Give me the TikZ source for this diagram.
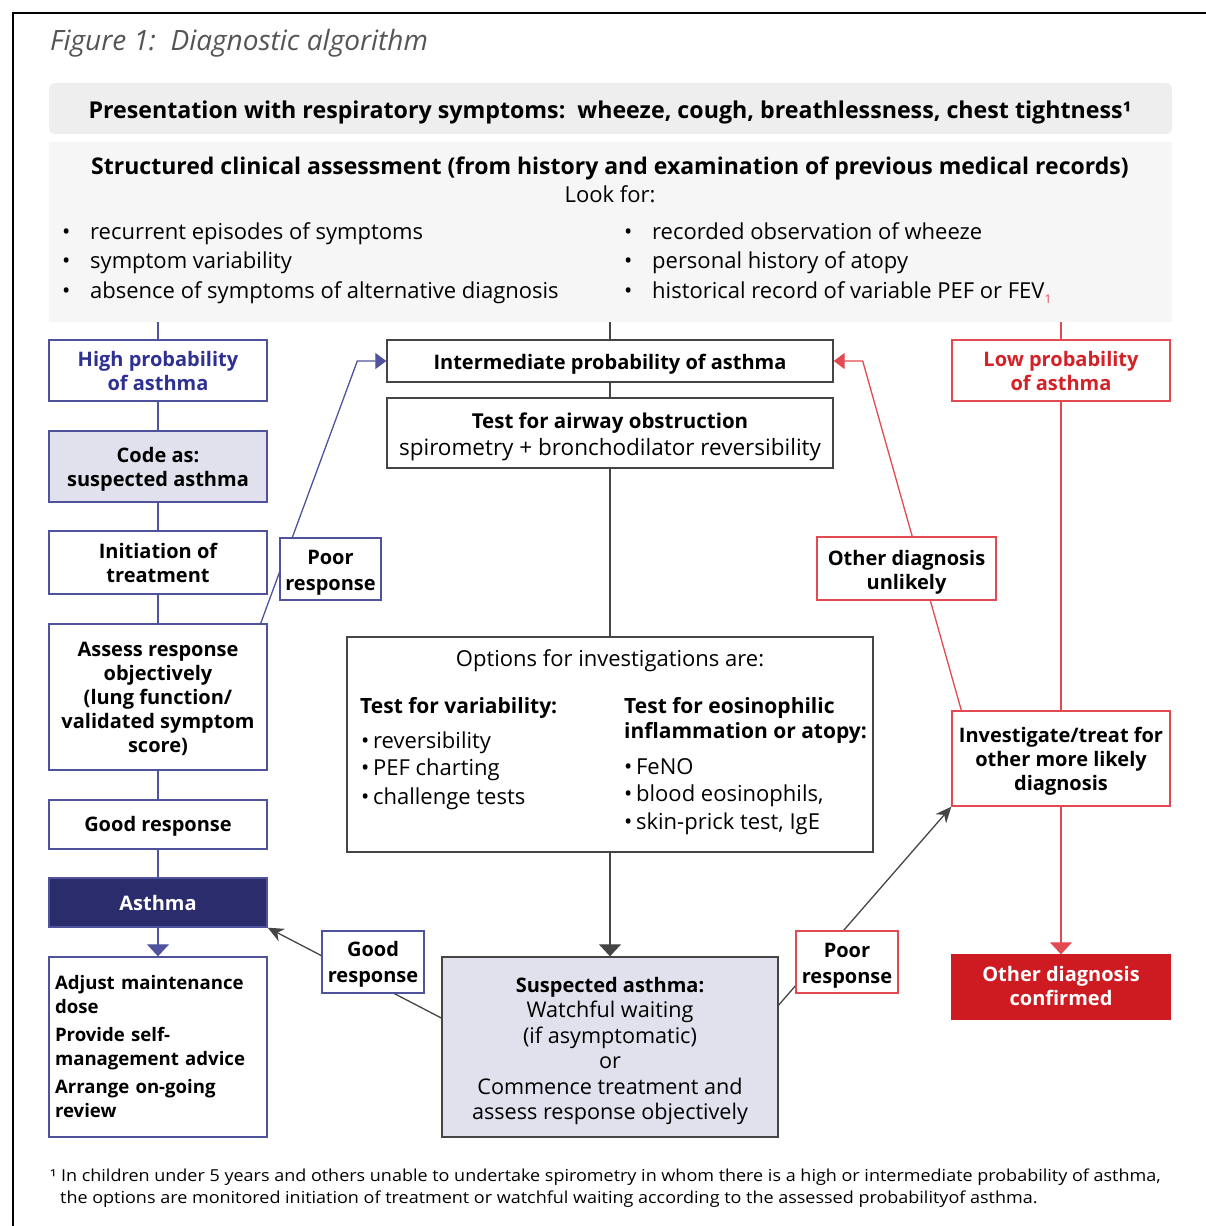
\documentclass[tikz,border=0pt]{standalone}
\usepackage{fontspec}
\setmainfont{Open Sans}
\newfontfamily\fnfont[FakeStretch=1.09]{Open Sans}
\usetikzlibrary{arrows.meta,calc,backgrounds}
\definecolor{navy}{HTML}{2E3192}
\definecolor{navyb}{HTML}{4F529C}
\definecolor{navyfill}{HTML}{2A2C6C}
\definecolor{lav}{HTML}{E1E1EE}
\definecolor{rd}{HTML}{D42128}
\definecolor{rdl}{HTML}{E34950}
\definecolor{rdfill}{HTML}{CE1A21}
\definecolor{dg}{HTML}{454545}
\definecolor{hdrgray}{HTML}{EEEEEE}
\definecolor{scagray}{HTML}{F6F6F6}
\definecolor{titlegray}{HTML}{555555}
\newcommand\fsz[2]{\fontsize{#1}{#2}\selectfont}
\newcommand\sdown[2]{\raisebox{-#1}[\height][\depth]{\begin{tabular}{@{}c@{}}#2\end{tabular}}}
\tikzset{
 bx/.style 2 args={minimum width=#1, minimum height=#2, inner sep=0pt, align=center},
 dn/.style={execute at begin node={\rule{0pt}{#1}}},
 nbox/.style={draw=navyb, line width=1.4pt, fill=white, font=\fsz{20}{24}\bfseries},
 gbox/.style={draw=dg, line width=1.4pt, fill=white},
 rbox/.style={draw=rdl, line width=1.4pt, fill=white, font=\fsz{20}{24}\bfseries},
 nline/.style={draw=navyb, line width=1.3pt},
 gline/.style={draw=dg, line width=1.3pt},
 rline/.style={draw=rdl, line width=1.3pt},
 ltxt/.style={anchor=base west, inner sep=0pt},
 sidetip/.style={-{Triangle[length=11pt,width=16pt]}},
 downtip/.style={-{Triangle[length=12pt,width=22pt]}},
 blk/.style={-{Stealth[length=16pt,width=14pt]}},
 reg/.style={font=\fsz{22}{25}},
 bld/.style={font=\fsz{21}{25}\bfseries},
}
\begin{document}
\begin{tikzpicture}[x=1pt,y=-1pt]
\useasboundingbox (0,0) rectangle (1206,1226);
% frame
\draw[line width=2pt] (13,1226) -- (13,13) -- (1206,13);
\node[ltxt, font=\fsz{28}{32}\itshape, text=titlegray] (title) at (50,50) {Figure 1:\ \ Diagnostic algorithm};

% header boxes
\node[fill=hdrgray, rounded corners=6pt, bx={1123pt}{51pt}] (hdr) at (610.5,108.5) {};
\node[anchor=base, inner sep=0pt, font=\fsz{23.2}{26}\bfseries] (hdrt) at (610,118)
  {Presentation with respiratory symptoms:\ \ wheeze, cough, breathlessness, chest tightness¹};
\node[fill=scagray, bx={1123pt}{180pt}] (sca) at (610.5,232) {};
\node[anchor=base, inner sep=0pt, font=\fsz{23}{26}\bfseries] (scat) at (610,174)
  {Structured clinical assessment (from history and examination of previous medical records)};
\node[anchor=base, inner sep=0pt, reg] (look) at (610,202) {Look for:};
\node[ltxt, reg] (b1) at (62,239) {\makebox[28pt][l]{•}recurrent episodes of symptoms};
\node[ltxt, reg] (b2) at (62,268) {\makebox[28pt][l]{•}symptom variability};
\node[ltxt, reg] (b3) at (62,298) {\makebox[28pt][l]{•}absence of symptoms of alternative diagnosis};
\node[ltxt, reg] (b4) at (624,239) {\makebox[28pt][l]{•}recorded observation of wheeze};
\node[ltxt, reg] (b5) at (624,268) {\makebox[28pt][l]{•}personal history of atopy};
\node[ltxt, reg] (b6) at (624,298) {\makebox[28pt][l]{•}historical record of variable PEF or FEV\raisebox{-5pt}{\fsz{12}{12}\textcolor{rdl}{1}}};

% left column
\node[nbox, bx={218pt}{61pt}, text=navy] (high) at (158,370.5) {High probability\\of asthma};
\node[nbox, bx={218pt}{71pt}, fill=lav] (code) at (158,466.5) {\sdown{3.5pt}{Code as:\\suspected asthma}};
\node[nbox, bx={218pt}{63pt}] (init) at (158,562.5) {Initiation of\\treatment};
\node[nbox, bx={218pt}{146pt}] (assess) at (158,697) {\sdown{2.5pt}{Assess response\\objectively\\(lung function/\\validated symptom\\score)}};
\node[nbox, bx={218pt}{49pt}, dn=19pt] (good) at (158,824.5) {Good response};
\node[nbox, bx={218pt}{49pt}, fill=navyfill, text=white] (asthma) at (158,902.5) {Asthma};
\node[nbox, bx={218pt}{180pt}, align=left, text width=206pt, font=\fsz{18.6}{24}\bfseries] (adjust) at (158,1047)
  {Adjust maintenance\\dose\\[4pt]Provide self-\\management advice\\[4pt]Arrange on-going\\review};
\node[nbox, bx={101pt}{62pt}, font=\fsz{20}{26}\bfseries] (poor1) at (330.5,569) {\sdown{3pt}{Poor\\response}};
\node[nbox, bx={102pt}{62pt}, font=\fsz{20}{26}\bfseries] (good2) at (373,962) {\sdown{2.5pt}{Good\\response}};

% centre column
\node[gbox, bx={446pt}{42pt}, font=\fsz{20}{24}\bfseries, dn=21pt] (inter) at (610,361) {Intermediate probability of asthma};
\node[gbox, bx={446pt}{70pt}, font=\fsz{22.5}{27}] (test) at (610,433)
  {\sdown{4pt}{\fontsize{20.5}{27}\selectfont\textbf{Test for airway obstruction}\\spirometry + bronchodilator reversibility}};
\node[gbox, bx={526pt}{215pt}] (opt) at (610,744.5) {};
\node[inner sep=0pt, reg] (opth) at (610,661) {Options for investigations are:};
\node[ltxt, bld] (v0) at (360,713) {Test for variability:};
\node[ltxt, reg] (v1) at (361,748) {•\,reversibility};
\node[ltxt, reg] (v2) at (361,775) {•\,PEF charting};
\node[ltxt, reg] (v3) at (361,804) {•\,challenge tests};
\node[ltxt, bld] (e0) at (624,713) {Test for eosinophilic};
\node[ltxt, bld] (e1) at (624,738) {inflammation or atopy:};
\node[ltxt, reg] (e2) at (624,774) {•\,FeNO};
\node[ltxt, reg] (e3) at (624,801) {•\,blood eosinophils,};
\node[ltxt, reg] (e4) at (624,829) {•\,skin-prick test, IgE};
\node[gbox, bx={336pt}{180pt}, fill=lav, font=\fsz{21.6}{25.4}] (susp) at (610,1047)
  {\sdown{4pt}{\fontsize{20}{25.4}\selectfont\textbf{Suspected asthma:}\\Watchful waiting\\(if asymptomatic)\\or\\Commence treatment and\\assess response objectively}};

% right column
\node[rbox, bx={218pt}{61pt}, text=rd] (low) at (1061,370.5) {Low probability\\of asthma};
\node[rbox, bx={179pt}{63pt}] (other) at (906.5,568.5) {\sdown{4pt}{Other diagnosis\\unlikely}};
\node[rbox, bx={218pt}{95pt}] (invest) at (1061,758.5) {\sdown{3.5pt}{Investigate/treat for\\other more likely\\diagnosis}};
\node[rbox, bx={218pt}{64pt}, fill=rdfill, draw=rdfill, text=white] (conf) at (1061,987) {\sdown{1.5pt}{Other diagnosis\\confirmed}};
\node[rbox, bx={102pt}{62pt}, font=\fsz{20}{26}\bfseries] (poor2) at (847,962) {\sdown{3pt}{Poor\\response}};

% footnote
\node[ltxt, font=\fnfont\fsz{16.5}{20}] (fn1) at (50,1181) {¹ In children under 5 years and others unable to undertake spirometry in whom there is a high or intermediate probability of asthma,};
\node[ltxt, font=\fnfont\fsz{16.5}{20}] (fn2) at (60,1203) {the options are monitored initiation of treatment or watchful waiting according to the assessed probabilityof asthma.};

% connectors
\begin{scope}[on background layer]
\draw[nline] (high.north) -- (high.north |- sca.south);
\draw[nline] (high) -- (code);
\draw[nline] (code) -- (init);
\draw[nline] (init) -- (assess);
\draw[nline] (assess) -- (good);
\draw[nline] (good) -- (asthma);
\draw[nline, downtip] (asthma.south) -- (adjust.north);
\draw[nline, sidetip] ($(assess.north east)+(-7,0)$) -- ($(inter.west)+(-29,0)$) -- (inter.west);
\draw[gline] (inter.north) -- (inter.north |- sca.south);
\draw[gline] (inter) -- (test);
\draw[gline] (test.south) -- (opt.north);
\draw[gline] ($(opt.north west)+(0,46)$) -- ($(opt.north east)+(0,46)$);
\draw[gline] ($(opt.north)+(0,46)$) -- (opt.south);
\draw[gline, downtip] (opt.south) -- (susp.north);
\draw[gline, blk] ($(susp.west)+(0,-29)$) -- (asthma.south east);
\draw[gline, blk] ($(susp.east)+(0,-42)$) -- (invest.south west);
\draw[rline] (low.north) -- (low.north |- sca.south);
\draw[rline] (low) -- (invest);
\draw[rline, downtip] (invest.south) -- (conf.north);
\draw[rline, sidetip] ($(invest.north west)+(10,0)$) -- ($(inter.east)+(29,0)$) -- (inter.east);
\end{scope}
\end{tikzpicture}
\end{document}
